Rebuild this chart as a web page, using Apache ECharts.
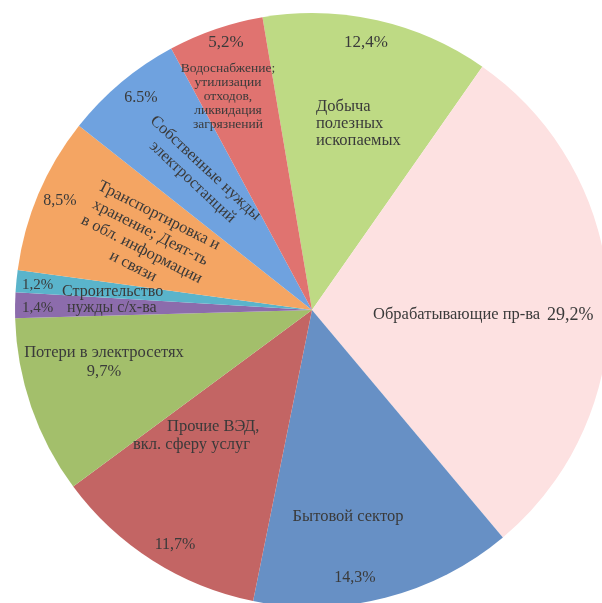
<!DOCTYPE html>
<html>
<head>
<meta charset="utf-8">
<script src="https://cdn.jsdelivr.net/npm/echarts@6/dist/echarts.min.js"></script>
<style>
  html, body { margin: 0; padding: 0; background: #fff; }
  #chart { width: 602px; height: 603px; }
</style>
</head>
<body>
<div id="chart"></div>
<script>
// Структура электропотребления по видам деятельности, %
const categories = [
  'Добыча\nполезных\nископаемых',
  'Обрабатывающие пр-ва',
  'Бытовой сектор',
  'Прочие ВЭД,\nвкл. сферу услуг',
  'Потери в электросетях',
  'нужды с/х-ва',
  'Строительство',
  'Транспортировка и\nхранение; Деят-ть\nв обл. информации\nи связи',
  'Собственные нужды\nэлектростанций',
  'Водоснабжение;\nутилизации\nотходов,\nликвидация\nзагрязнений'
];
const shares = [12.4, 29.2, 14.3, 11.7, 9.7, 1.4, 1.2, 8.5, 6.5, 5.2];
const decimalMarks = [',', ',', ',', ',', ',', ',', ',', ',', '.', ','];

const colors = ['#BEDA84', '#FDE1E1', '#6790C5', '#C36564', '#A3BF6B',
                '#8C6CAC', '#5AB4CB', '#F4A563', '#6FA2DF', '#E07370'];

// name label placement: [x, y, align, rotate, fontSize, lineHeight]
const nameLayout = [
  [316, 124, 'left', 0, 16.5, 17],
  [373, 315, 'left', 0, 16.5, 18],
  [348, 517, 'center', 0, 16.5, 18],
  [133, 436, 'left', 0, 16.5, 18],
  [104, 353, 'center', 0, 16.5, 18],
  [67, 308, 'left', 0, 16, 18],
  [62, 292, 'left', 0, 16, 18],
  [146, 241, 'center', -27, 16.5, 19],
  [199, 175, 'center', -43, 16.5, 19],
  [228, 96, 'center', 0, 13.5, 14]
];
// value label placement: [x, y, align, fontSize]
const valueLayout = [
  [366, 43, 'center', 17],
  [547, 315, 'left', 18],
  [355, 578, 'center', 16],
  [175, 545, 'center', 16],
  [104, 372, 'center', 16.5],
  [22, 308, 'left', 15],
  [22, 285, 'left', 15],
  [60, 201, 'center', 16],
  [141, 98, 'center', 16],
  [226, 43, 'center', 17]
];

const FONT = '"Liberation Serif", "DejaVu Serif", serif';
const TEXT = '#3a3a3a';

const nameText = (name, i) => {
  if (i === 3) {
    const parts = name.split('\n');
    return '{a|' + parts[0] + '}\n{b|' + parts[1] + '}';
  }
  return name;
};

const pieData = categories.map((c, i) => ({
  name: c,
  value: shares[i],
  itemStyle: { color: colors[i] },
  label: {
    rotate: nameLayout[i][3],
    fontSize: nameLayout[i][4],
    lineHeight: nameLayout[i][5],
    align: nameLayout[i][2],
    rich: {
      a: { color: TEXT, fontFamily: FONT, fontSize: 16.5, lineHeight: 18, padding: [0, 0, 0, 34] },
      b: { color: TEXT, fontFamily: FONT, fontSize: 16.5, lineHeight: 18 }
    }
  }
}));

const valueData = categories.map((c, i) => ({
  name: c,
  value: shares[i],
  itemStyle: { color: 'rgba(0,0,0,0)' },
  label: { fontSize: valueLayout[i][3] }
}));

const fmtValue = (v, i) => v.toFixed(1).replace('.', decimalMarks[i]) + '%';

const chart = echarts.init(document.getElementById('chart'), null, { renderer: 'canvas' });
chart.setOption({
  animation: false,
  backgroundColor: '#ffffff',
  series: [
    {
      type: 'pie',
      center: [312, 310],
      radius: [0, 297],
      startAngle: 99.6,
      clockwise: true,
      avoidLabelOverlap: false,
      silent: true,
      itemStyle: { borderWidth: 0 },
      label: {
        show: true,
        position: 'inside',
        color: TEXT,
        fontFamily: FONT,
        fontSize: 16.5,
        formatter: p => nameText(p.name, p.dataIndex)
      },
      labelLine: { show: false },
      labelLayout: p => {
        const L = nameLayout[p.dataIndex];
        return { x: L[0], y: L[1], align: L[2], verticalAlign: 'middle', rotate: L[3] };
      },
      data: pieData
    },
    {
      type: 'pie',
      center: [312, 310],
      radius: [0, 297],
      startAngle: 99.6,
      clockwise: true,
      avoidLabelOverlap: false,
      silent: true,
      z: 3,
      itemStyle: { borderWidth: 0 },
      label: {
        show: true,
        position: 'inside',
        color: TEXT,
        fontFamily: FONT,
        fontSize: 16,
        formatter: p => fmtValue(p.value, p.dataIndex)
      },
      labelLine: { show: false },
      labelLayout: p => {
        const L = valueLayout[p.dataIndex];
        return { x: L[0], y: L[1], align: L[2], verticalAlign: 'middle', rotate: 0 };
      },
      data: valueData
    }
  ]
});
</script>
</body>
</html>
